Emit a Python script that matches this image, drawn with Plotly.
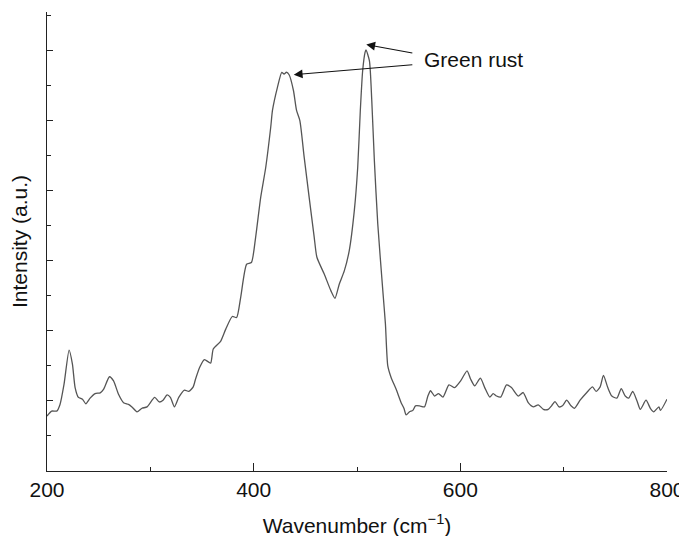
import plotly.graph_objects as go

# Raman spectrum
wavenumber = [200, 204.5, 209.4, 212.6, 216.5, 221.4, 224.6, 227.2, 230.4, 234.3,
              237.6, 241.7, 246.6, 251.5, 254.7, 260.5, 264.4, 269.2, 274.1, 278.9,
              282.2, 287.1, 291.9, 296.8, 304.2, 308.7, 312.3, 316.2, 319.4, 323.3,
              327.5, 333.0, 337.2, 341.5, 343.7, 347.9, 352.4, 358.3, 360.9, 368.0,
              373.0, 379.3, 383.5, 387.4, 393.2, 397.8, 401.9, 406.8, 411.7, 416.5,
              418.2, 423.0, 427.2, 429.4, 431.7, 434.3, 438.5, 441.5, 444.7, 448.9,
              453.7, 458.6, 461.2, 468.3, 474.8, 478.7, 482.8, 487.7, 492.5, 497.4,
              500.7, 503.2, 505.5, 507.8, 508.7, 512.0, 514.3, 516.8, 520.1, 525.0,
              527.5, 529.8, 533.0, 537.9, 542.7, 545.4, 547.6, 550.8, 554.1, 556.6,
              560.5, 565.3, 568.6, 571.2, 575.1, 578.9, 583.2, 589.0, 594.5, 600.3,
              606.5, 610.0, 613.9, 619.4, 623.6, 628.5, 631.8, 635.0, 639.1, 644.7,
              649.5, 656.0, 660.8, 665.7, 670.6, 675.4, 680.3, 685.1, 688.3, 691.6,
              695.5, 698.8, 702.9, 707.1, 710.4, 715.9, 722.4, 727.9, 731.4, 735.3,
              738.5, 742.7, 746.6, 751.5, 755.7, 759.6, 762.9, 766.8, 771.0, 774.2,
              779.7, 783.9, 787.2, 792.1, 793.7, 800.0]
intensity = [1.57, 1.71, 1.71, 1.90, 2.48, 3.45, 3.05, 2.38, 2.10, 2.05,
             1.92, 2.08, 2.21, 2.23, 2.33, 2.69, 2.57, 2.19, 1.95, 1.90,
             1.83, 1.69, 1.79, 1.83, 2.10, 1.97, 2.02, 2.17, 2.10, 1.83,
             2.10, 2.31, 2.27, 2.40, 2.62, 2.97, 3.18, 3.08, 3.48, 3.70,
             4.05, 4.41, 4.38, 4.95, 5.90, 5.95, 6.67, 7.81, 8.67, 9.81,
             10.29, 10.95, 11.38, 11.33, 11.38, 11.31, 10.86, 10.29, 10.00, 8.95,
             7.81, 6.67, 6.10, 5.62, 5.14, 4.93, 5.33, 5.71, 6.29, 7.43,
             8.67, 10.29, 11.43, 11.95, 12.02, 11.71, 10.57, 8.86, 7.05, 5.14,
             4.20, 3.00, 2.67, 2.33, 1.95, 1.79, 1.60, 1.69, 1.73, 1.86,
             1.86, 1.83, 2.14, 2.29, 2.14, 2.21, 2.11, 2.46, 2.38, 2.57,
             2.86, 2.62, 2.43, 2.65, 2.38, 2.11, 2.21, 2.14, 2.11, 2.46,
             2.38, 2.14, 2.24, 1.95, 1.83, 1.89, 1.76, 1.76, 1.86, 1.98,
             1.83, 1.86, 2.02, 1.86, 1.79, 2.02, 2.24, 2.40, 2.27, 2.40,
             2.73, 2.38, 2.14, 2.08, 2.35, 2.14, 2.08, 2.27, 2.00, 1.76,
             2.02, 1.79, 1.69, 1.83, 1.73, 2.05]

x_ticks = [200, 400, 600, 800]
x_tick_labels = ["200", "400", "600", "800"]

label_text = "Green rust"
label_pos = (563.0, 11.74)
arrow_tails = [(555.0, 11.92), (555.0, 11.60)]
arrow_heads = [(509.0, 12.17), (438.8, 11.31)]

FONT = "Liberation Sans, Arial, Helvetica, sans-serif"
AX = "#222222"
FS = 21

fig = go.Figure()
fig.add_trace(go.Scatter(
    x=wavenumber, y=intensity, mode="lines",
    line=dict(color="#555555", width=1.3, shape="spline", smoothing=0.6),
    hoverinfo="skip", showlegend=False))

annotations = [dict(x=label_pos[0], y=label_pos[1], xref="x", yref="y",
                    text=label_text, showarrow=False, xanchor="left", yanchor="middle",
                    font=dict(family=FONT, size=FS, color="#111111"))]
for (tx, ty), (hx, hy) in zip(arrow_tails, arrow_heads):
    annotations.append(dict(x=hx, y=hy, xref="x", yref="y", ax=tx, ay=ty,
                            axref="x", ayref="y", text="", showarrow=True,
                            arrowhead=2, arrowsize=1.6, arrowwidth=1.1,
                            arrowcolor="#111111", standoff=0))

fig.update_layout(
    width=687, height=536,
    margin=dict(l=39, r=28, t=4, b=73),
    paper_bgcolor="white", plot_bgcolor="white",
    font=dict(family=FONT, size=FS, color="#111111"),
    annotations=annotations,
    xaxis=dict(range=[200, 800], tickmode="array", tickvals=x_ticks,
               ticktext=x_tick_labels, ticks="inside", ticklen=8, tickwidth=1.2,
               tickcolor=AX, showline=True, linecolor=AX, linewidth=1.3,
               showgrid=False, zeroline=False, automargin=False,
               minor=dict(dtick=100, ticks="inside", ticklen=4, tickwidth=1.2,
                          tickcolor=AX, showgrid=False),
               tickfont=dict(size=FS),
               title=dict(text="Wavenumber (cm<sup>−1</sup>)", font=dict(size=FS),
                          standoff=17)),
    yaxis=dict(range=[0, 13.1], dtick=2, tick0=0, ticks="inside", ticklen=6,
               tickwidth=1.2, tickcolor=AX, showline=True, linecolor=AX,
               linewidth=1.3, showgrid=False, zeroline=False, showticklabels=False,
               automargin=False,
               minor=dict(dtick=1, ticks="inside", ticklen=4, tickwidth=1.2,
                          tickcolor=AX, showgrid=False),
               title=dict(text="Intensity (a.u.)", font=dict(size=FS), standoff=19)),
)

fig.write_html("out.html")
